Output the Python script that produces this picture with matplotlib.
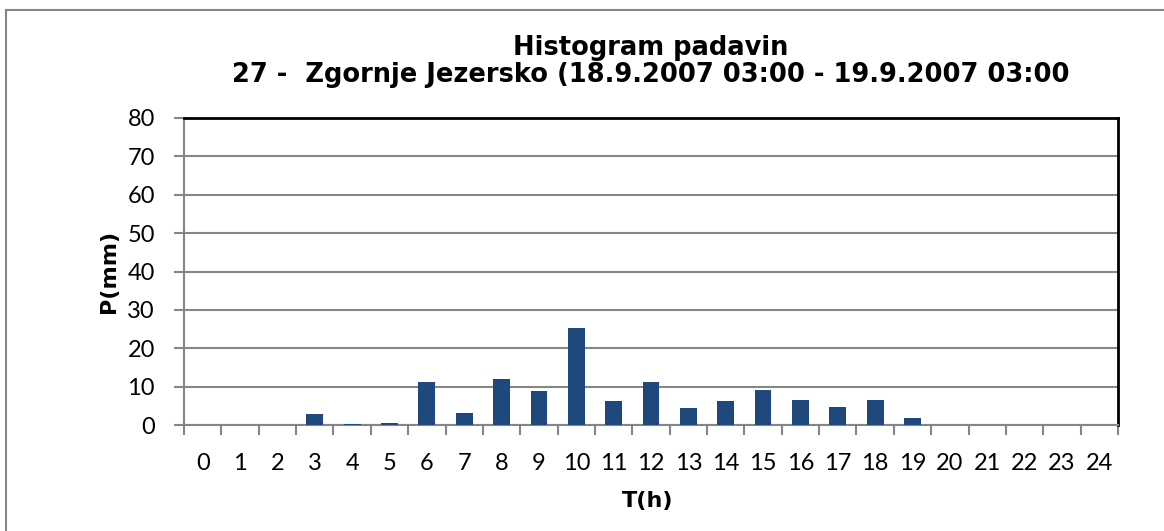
import numpy as np
from matplotlib import pyplot as plt
from matplotlib.lines import Line2D

hours = list(range(25))
rain = [0, 0, 0, 2.9, 0.2, 0.6, 11.1, 3.1, 12.1, 8.8, 25.2, 6.3, 11.3,
        4.3, 6.3, 9.1, 6.6, 4.6, 6.4, 1.7, 0, 0, 0, 0, 0]
y_ticks = [0, 10, 20, 30, 40, 50, 60, 70, 80]

title1 = "Histogram padavin"
title2 = "27 -  Zgornje Jezersko (18.9.2007 03:00 - 19.9.2007 03:00"

W, H = 1164, 531
fig = plt.figure(figsize=(W / 100, H / 100), dpi=100)
ax = fig.add_axes([184 / W, 1 - 425 / H, (1118 - 184) / W, (425 - 118) / H])

grey = "#868686"
ax.bar(hours, rain, width=0.45, color="#1F497D", zorder=3)

ax.set_xlim(-0.5, 24.5)
ax.set_ylim(0, 80)
ax.set_yticks(y_ticks)
ax.yaxis.grid(True, color=grey, linewidth=1.5, zorder=0)

# labels at hours, tick marks between categories
ax.set_xticks(hours)
ax.set_xticks(np.arange(-0.5, 25, 1), minor=True)
ax.tick_params(axis="x", which="major", length=0, pad=20)
ax.tick_params(axis="x", which="minor", length=7, width=1.5, color=grey, direction="out")
ax.tick_params(axis="y", length=7, width=1.5, color=grey, direction="out", pad=14)
for lbl in ax.get_xticklabels() + ax.get_yticklabels():
    lbl.set_fontfamily("Lato")
    lbl.set_fontsize(17)

ax.spines["left"].set_color(grey)
ax.spines["bottom"].set_color(grey)
ax.spines["left"].set_linewidth(1.5)
ax.spines["bottom"].set_linewidth(1.5)
ax.spines["top"].set_color("black")
ax.spines["right"].set_color("black")
ax.spines["top"].set_linewidth(2)
ax.spines["right"].set_linewidth(2)

fig.text(651 / W, 1 - 48 / H, title1, ha="center", va="center",
         fontsize=18.5, fontweight="bold", family="DejaVu Sans")
fig.text(651 / W, 1 - 75 / H, title2, ha="center", va="center",
         fontsize=18.5, fontweight="bold", family="DejaVu Sans")
fig.text(109 / W, 1 - 271 / H, "P(mm)", rotation=90, ha="center", va="center",
         fontsize=16, fontweight="bold", family="DejaVu Sans")
fig.text(648 / W, 1 - 501 / H, "T(h)", ha="center", va="center",
         fontsize=16, fontweight="bold", family="DejaVu Sans")

# chart area border (top and left visible)
fig.add_artist(Line2D([6 / W, 1], [1 - 10 / H, 1 - 10 / H], color=grey, linewidth=1.5))
fig.add_artist(Line2D([6 / W, 6 / W], [0, 1 - 10 / H], color=grey, linewidth=1.5))

plt.savefig("out.png", dpi=100)
